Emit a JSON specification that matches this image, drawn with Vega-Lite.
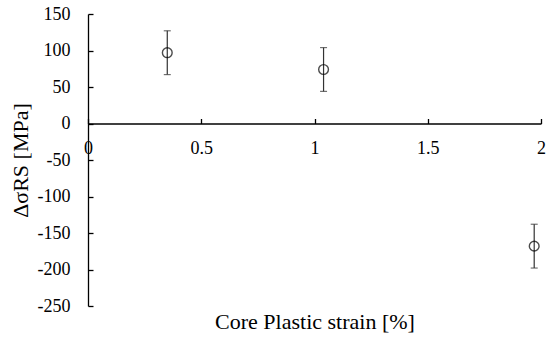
{
  "$schema": "https://vega.github.io/schema/vega-lite/v6.json",
  "width": 453,
  "height": 292,
  "autosize": "none",
  "padding": {"left": 88, "top": 14, "right": 6, "bottom": 32},
  "background": "white",
  "config": {
    "view": {"stroke": null}
  },
  "data": {
    "values": [
      {"strain": 0.35, "dsigma": 97, "low": 67, "high": 127},
      {"strain": 1.04, "dsigma": 74, "low": 44, "high": 104},
      {"strain": 1.97, "dsigma": -168, "low": -198, "high": -138}
    ]
  },
  "encoding": {
    "x": {
      "field": "strain",
      "type": "quantitative",
      "scale": {"domain": [0, 2], "nice": false, "zero": false},
      "axis": {
        "values": [0, 0.5, 1, 1.5, 2],
        "labelExpr": "toString(datum.value)",
        "grid": false,
        "offset": -182.5,
        "domainColor": "black",
        "domainWidth": 1.3,
        "tickSize": -5,
        "tickWidth": 1.3,
        "tickColor": "black",
        "labelFont": "Liberation Serif",
        "labelFontSize": 18,
        "labelColor": "black",
        "labelOverlap": false,
        "labelFlush": false,
        "labelPadding": 21,
        "title": "Core Plastic strain [%]",
        "titleFont": "Liberation Serif",
        "titleFontSize": 22,
        "titleFontWeight": "normal",
        "titleColor": "black",
        "titleBaseline": "alphabetic",
        "titleY": 205
      }
    }
  },
  "layer": [
    {
      "mark": {"type": "rule", "color": "#333333", "strokeWidth": 1.2},
      "encoding": {
        "y": {
          "field": "low",
          "type": "quantitative",
          "scale": {"domain": [-250, 150], "nice": false, "zero": false},
          "axis": {
            "values": [-250, -200, -150, -100, -50, 0, 50, 100, 150],
            "labelExpr": "toString(datum.value)",
            "grid": false,
            "domainColor": "black",
            "domainWidth": 1.3,
            "tickSize": -5,
            "tickWidth": 1.3,
            "tickColor": "black",
            "labelFont": "Liberation Serif",
            "labelFontSize": 18,
            "labelColor": "black",
            "labelOverlap": false,
            "labelFlush": false,
            "labelPadding": 23,
            "title": "ΔσRS [MPa]",
            "titleFont": "Liberation Serif",
            "titleFontSize": 22,
            "titleFontWeight": "normal",
            "titleColor": "black",
            "titleBaseline": "alphabetic",
            "titleX": -61
          }
        },
        "y2": {"field": "high"}
      }
    },
    {
      "mark": {"type": "tick", "orient": "horizontal", "color": "#333333", "size": 7, "thickness": 1.2},
      "encoding": {
        "y": {
          "field": "low",
          "type": "quantitative",
          "scale": {"domain": [-250, 150], "nice": false, "zero": false},
          "axis": {
            "values": [-250, -200, -150, -100, -50, 0, 50, 100, 150],
            "labelExpr": "toString(datum.value)",
            "grid": false,
            "domainColor": "black",
            "domainWidth": 1.3,
            "tickSize": -5,
            "tickWidth": 1.3,
            "tickColor": "black",
            "labelFont": "Liberation Serif",
            "labelFontSize": 18,
            "labelColor": "black",
            "labelOverlap": false,
            "labelFlush": false,
            "labelPadding": 23,
            "title": "ΔσRS [MPa]",
            "titleFont": "Liberation Serif",
            "titleFontSize": 22,
            "titleFontWeight": "normal",
            "titleColor": "black",
            "titleBaseline": "alphabetic",
            "titleX": -61
          }
        }
      }
    },
    {
      "mark": {"type": "tick", "orient": "horizontal", "color": "#333333", "size": 7, "thickness": 1.2},
      "encoding": {
        "y": {
          "field": "high",
          "type": "quantitative",
          "scale": {"domain": [-250, 150], "nice": false, "zero": false},
          "axis": {
            "values": [-250, -200, -150, -100, -50, 0, 50, 100, 150],
            "labelExpr": "toString(datum.value)",
            "grid": false,
            "domainColor": "black",
            "domainWidth": 1.3,
            "tickSize": -5,
            "tickWidth": 1.3,
            "tickColor": "black",
            "labelFont": "Liberation Serif",
            "labelFontSize": 18,
            "labelColor": "black",
            "labelOverlap": false,
            "labelFlush": false,
            "labelPadding": 23,
            "title": "ΔσRS [MPa]",
            "titleFont": "Liberation Serif",
            "titleFontSize": 22,
            "titleFontWeight": "normal",
            "titleColor": "black",
            "titleBaseline": "alphabetic",
            "titleX": -61
          }
        }
      }
    },
    {
      "mark": {"type": "point", "shape": "circle", "filled": false, "color": "black", "strokeWidth": 1.4, "size": 95},
      "encoding": {
        "y": {
          "field": "dsigma",
          "type": "quantitative",
          "scale": {"domain": [-250, 150], "nice": false, "zero": false},
          "axis": {
            "values": [-250, -200, -150, -100, -50, 0, 50, 100, 150],
            "labelExpr": "toString(datum.value)",
            "grid": false,
            "domainColor": "black",
            "domainWidth": 1.3,
            "tickSize": -5,
            "tickWidth": 1.3,
            "tickColor": "black",
            "labelFont": "Liberation Serif",
            "labelFontSize": 18,
            "labelColor": "black",
            "labelOverlap": false,
            "labelFlush": false,
            "labelPadding": 23,
            "title": "ΔσRS [MPa]",
            "titleFont": "Liberation Serif",
            "titleFontSize": 22,
            "titleFontWeight": "normal",
            "titleColor": "black",
            "titleBaseline": "alphabetic",
            "titleX": -61
          }
        }
      }
    }
  ]
}
